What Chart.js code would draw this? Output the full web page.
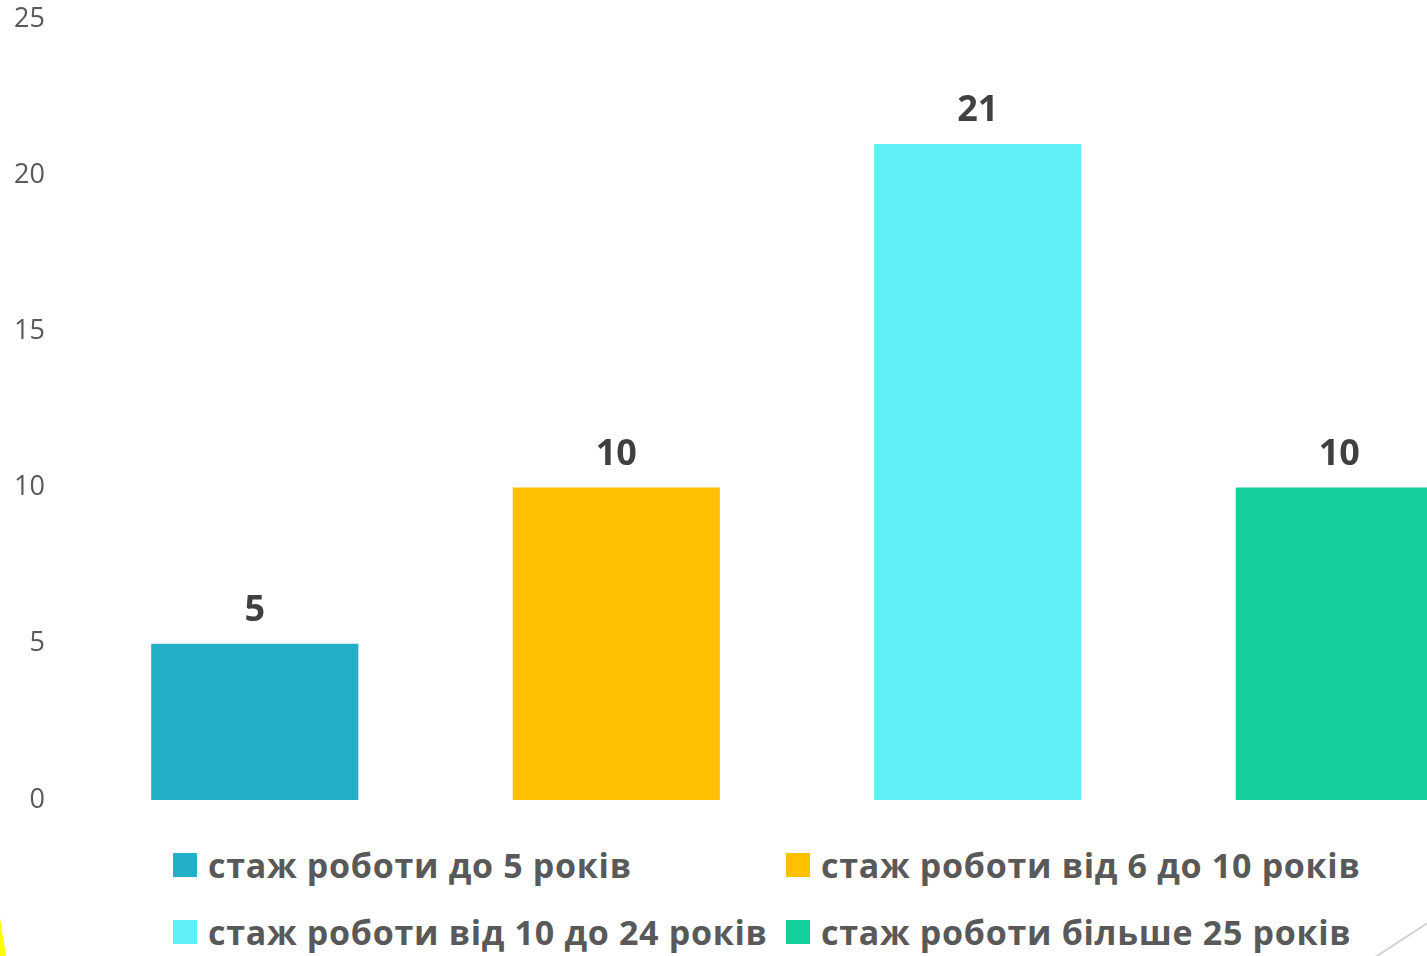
<!DOCTYPE html>
<html>
<head>
<meta charset="utf-8">
<script src="https://cdn.jsdelivr.net/npm/chart.js@4/dist/chart.umd.min.js"></script>
<style>
    html, body { margin: 0; padding: 0; background: #fff; overflow: hidden; width: 1427px; height: 956px; }
    #wrap { position: absolute; left: 0; top: 0; width: 1520px; height: 820px; }
    #legend {
        position: absolute; left: 173px; top: 831px;
        display: grid; grid-template-columns: 613px auto; grid-auto-rows: 67px;
        font-family: "Open Sans", sans-serif; font-weight: bold; font-size: 34px; color: #595959;
        letter-spacing: 0.7px;
    }
    .item { display: flex; align-items: center; white-space: nowrap; }
    .box { width: 24px; height: 24px; margin-right: 11px; flex: none; }
    /* декоративні елементи слайду */
    #deco-yellow { position: absolute; left: 0; top: 918px; width: 6px; height: 38px; background: #ffff00;
        clip-path: polygon(0 0, 100% 100%, 0 100%); }
    #deco-line { position: absolute; left: 1370px; top: 938px; width: 66px; height: 2px; background: #d0d0d0;
        transform: rotate(-33deg); transform-origin: center; }
</style>
</head>
<body>
<div id="wrap"><canvas id="barChart" width="1520" height="820"></canvas></div>
<div id="legend"></div>
<div id="deco-yellow"></div>
<div id="deco-line"></div>
<script>
// дані діаграми
const categories = [
    "стаж роботи до 5 років",
    "стаж роботи від 6 до 10 років",
    "стаж роботи від 10 до 24 років",
    "стаж роботи більше 25 років"
];
const values = [5, 10, 21, 10];
const colors = ["#22b0c8", "#ffc000", "#5ef0f5", "#12cf9b"];
const yTicks = [0, 5, 10, 15, 20, 25];

document.addEventListener("DOMContentLoaded", function () {
    // підписи значень над стовпчиками
    const valueLabels = {
        id: 'valueLabels',
        afterDatasetsDraw(chart) {
            const ctx = chart.ctx;
            const meta = chart.getDatasetMeta(0);
            ctx.save();
            ctx.font = 'bold 36px "Open Sans"';
            ctx.fillStyle = '#404040';
            ctx.textAlign = 'center';
            ctx.textBaseline = 'alphabetic';
            meta.data.forEach((bar, i) => {
                ctx.fillText(String(values[i]), bar.x, bar.y - 23);
            });
            ctx.restore();
        }
    };

    const ctx = document.getElementById('barChart').getContext('2d');
    new Chart(ctx, {
        type: 'bar',
        data: {
            labels: categories,
            datasets: [{
                data: values,
                backgroundColor: colors,
                borderWidth: 0,
                barPercentage: 0.573,
                categoryPercentage: 1
            }]
        },
        options: {
            responsive: false,
            animation: false,
            layout: { padding: { top: 19, bottom: 20, left: 11, right: 0 } },
            scales: {
                x: { display: false },
                y: {
                    min: yTicks[0],
                    max: yTicks[yTicks.length - 1],
                    afterBuildTicks: (axis) => { axis.ticks = yTicks.map(v => ({ value: v })); },
                    afterFit: (axis) => {
                        axis.width = 63;
                        axis.paddingTop = 0;
                        axis.paddingBottom = 0;
                    },
                    grid: { display: false },
                    border: { display: false },
                    ticks: {
                        padding: 21,
                        color: '#595959',
                        font: { family: 'Open Sans', size: 27 }
                    }
                }
            },
            plugins: {
                legend: { display: false },
                tooltip: { enabled: false }
            }
        },
        plugins: [valueLabels]
    });

    // легенда
    const legend = document.getElementById('legend');
    categories.forEach((name, i) => {
        const item = document.createElement('div');
        item.className = 'item';
        const box = document.createElement('span');
        box.className = 'box';
        box.style.background = colors[i];
        item.appendChild(box);
        item.appendChild(document.createTextNode(name));
        legend.appendChild(item);
    });
});
</script>
</body>
</html>
